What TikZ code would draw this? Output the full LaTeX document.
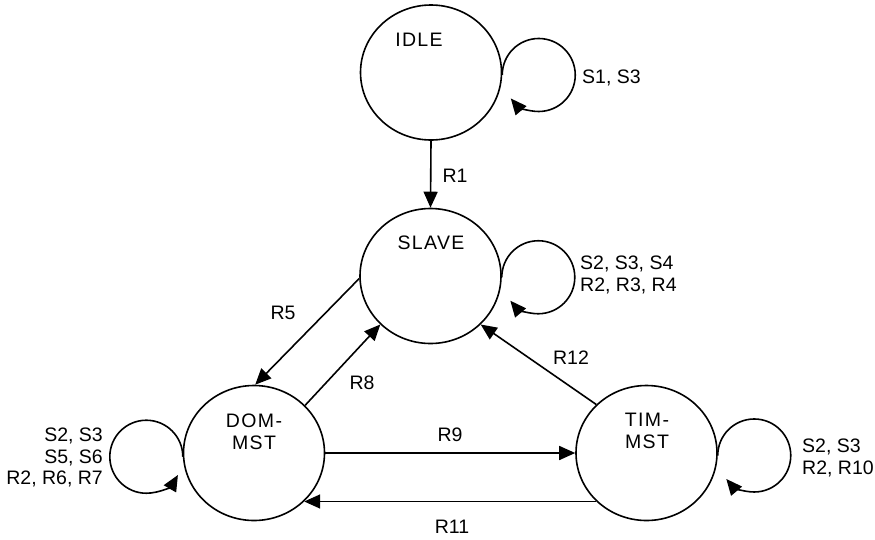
\documentclass[tikz,border=0pt]{standalone}
\usepackage{fontspec}
\setmainfont{Liberation Sans}
\newfontfamily\statefont[LetterSpace=7]{Liberation Sans}
\usetikzlibrary{shapes.geometric,arrows.meta}
\begin{document}
\begin{tikzpicture}[x=1pt,y=1pt,
  every node/.style={font=\fontsize{19.5}{21.5}\selectfont},
  state/.style={draw=black, line width=1.6pt, ellipse, minimum width=141pt, minimum height=135pt, inner sep=0pt},
  lbl/.style={inner sep=0pt},
  sname/.style={inner sep=0pt, font=\statefont\fontsize{19.5}{21.5}\selectfont},
  arr/.style={line width=1.6pt, -{Triangle[length=16pt,width=14pt]}},
  loopline/.style={line width=1.6pt, -{Triangle[length=16pt,width=14pt]}}]
\useasboundingbox (0,0) rectangle (875,-539);
% states
\node[state] (idle)  at (431,-72.5) {};
\node[state] (slave) at (430.5,-276) {};
\node[state] (dom)   at (254,-453) {};
\node[state] (tim)   at (646.5,-453) {};
% state names
\node[sname] (idlet)  at (419,-40) {IDLE};
\node[sname] (slavet) at (431,-243) {SLAVE};
\node[sname, align=center] (domt) at (254,-432) {DOM-\\MST};
\node[sname, align=center] (timt) at (647,-431) {TIM-\\MST};
% transitions
\draw[arr] (idle.south) -- (slave.north);
\draw[arr] (slave.182) -- (dom.89);
\draw[arr] (dom.43) -- (slave.224);
\draw[arr] (tim.136) -- (slave.-44);
\draw[arr] (dom.east) -- (tim.west);
\draw[arr] (tim.224) -- (dom.-44);
% self loops
\draw[loopline] (idle.-2) arc[start angle=180, end angle=-140, radius=36.5];
\draw[loopline] (slave.-1) arc[start angle=180, end angle=-140, radius=36.5];
\draw[loopline] (tim.-2) arc[start angle=180, end angle=-140, radius=36.5];
\draw[loopline] (dom.183) arc[start angle=0, end angle=330, radius=36.5];
% edge labels
\node[lbl] (r1)  at (455,-176) {R1};
\node[lbl] (r5)  at (283,-313) {R5};
\node[lbl] (r8)  at (362,-383) {R8};
\node[lbl] (r12) at (571,-358) {R12};
\node[lbl] (r9)  at (450,-435) {R9};
\node[lbl] (r11) at (452,-527) {R11};
% loop labels
\node[lbl, anchor=west] (l1) at (582,-78) {S1, S3};
\node[lbl, anchor=west, align=left] (l2) at (580,-275) {S2, S3, S4\\R2, R3, R4};
\node[lbl, anchor=east, align=right] (l3) at (103,-457.5) {S2, S3\\S5, S6\\R2, R6, R7};
\node[lbl, anchor=west, align=left] (l4) at (802,-458) {S2, S3\\R2, R10};
\end{tikzpicture}
\end{document}
